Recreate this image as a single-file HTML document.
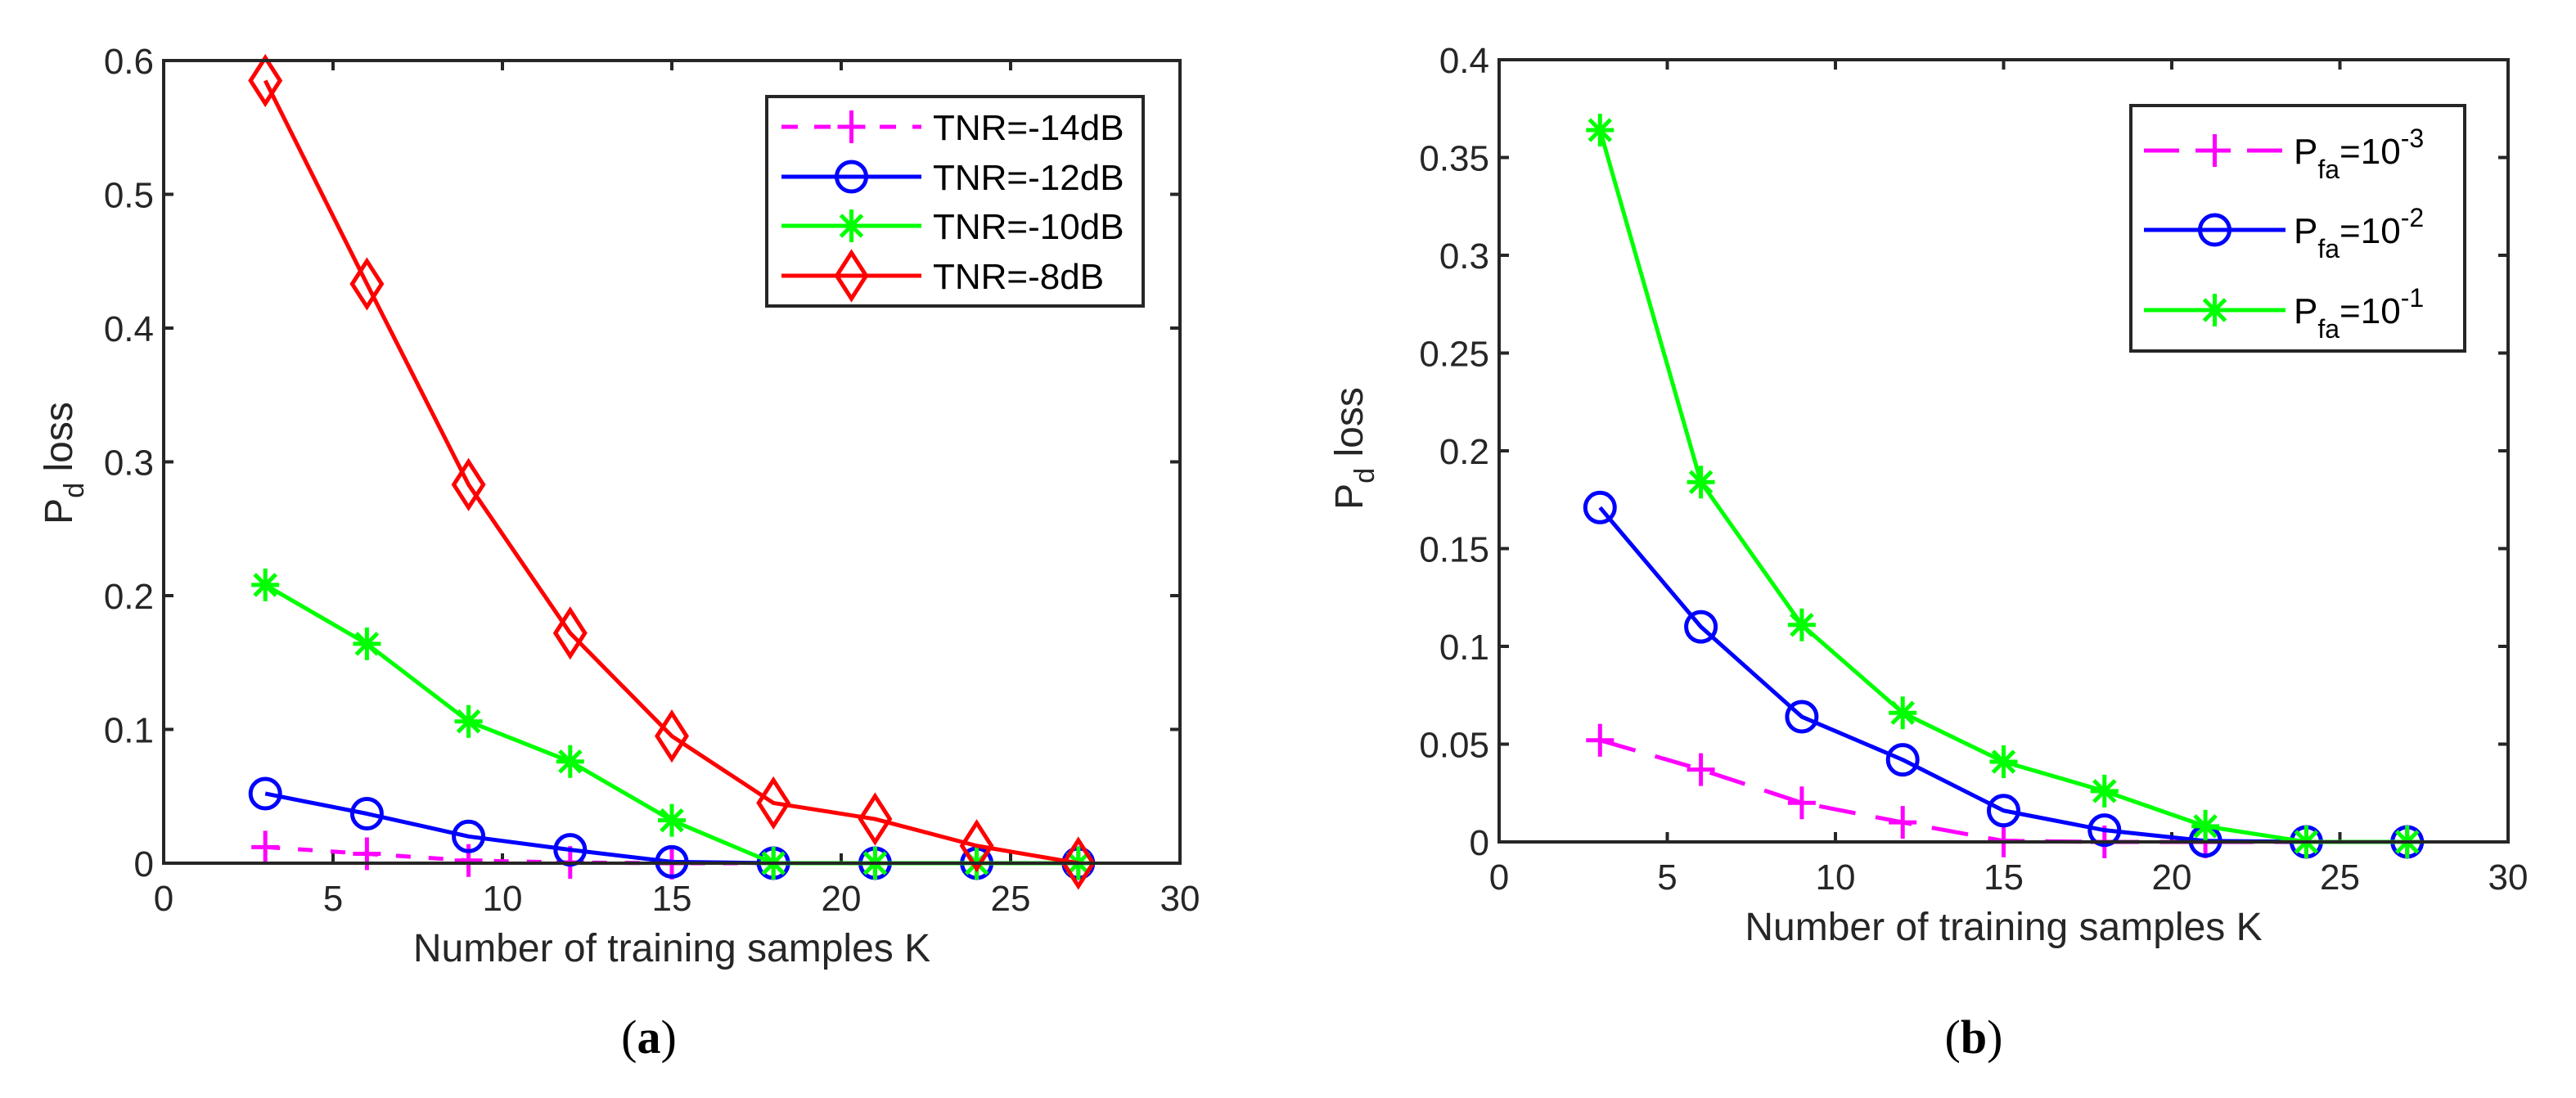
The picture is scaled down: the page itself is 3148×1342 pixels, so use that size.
<!DOCTYPE html>
<html><head><meta charset="utf-8">
<style>
html,body{margin:0;padding:0;background:#fff;}
svg{display:block;font-family:"Liberation Sans",Arial,sans-serif;}
</style></head>
<body>
<svg id="fig" width="3148" height="1342" viewBox="0 0 3148 1342" xmlns="http://www.w3.org/2000/svg"></svg>
<script>
// ---- data: panel (a) ----
const kValues = [3, 6, 9, 12, 15, 18, 21, 24, 27];
const aTnr14 = [0.012, 0.007, 0.002, 0.0005, 0, 0, 0, 0, 0];
const aTnr12 = [0.052, 0.037, 0.020, 0.010, 0.001, 0, 0, 0, 0];
const aTnr10 = [0.208, 0.164, 0.106, 0.076, 0.032, 0, 0, 0, 0];
const aTnr8  = [0.585, 0.433, 0.283, 0.172, 0.095, 0.045, 0.033, 0.013, 0];
const aLabels = ["TNR=-14dB", "TNR=-12dB", "TNR=-10dB", "TNR=-8dB"];
const aYTicks = [0, 0.1, 0.2, 0.3, 0.4, 0.5, 0.6];
const aYTickLabels = ["0", "0.1", "0.2", "0.3", "0.4", "0.5", "0.6"];
// ---- data: panel (b) ----
const bPfa3 = [0.052, 0.037, 0.020, 0.010, 0.0005, 0, 0, 0, 0];
const bPfa2 = [0.171, 0.110, 0.064, 0.042, 0.016, 0.006, 0.0005, 0, 0];
const bPfa1 = [0.364, 0.184, 0.111, 0.066, 0.041, 0.026, 0.008, 0, 0];
const bExponents = ["-3", "-2", "-1"];
const bYTicks = [0, 0.05, 0.1, 0.15, 0.2, 0.25, 0.3, 0.35, 0.4];
const bYTickLabels = ["0", "0.05", "0.1", "0.15", "0.2", "0.25", "0.3", "0.35", "0.4"];
const xTicks = [0, 5, 10, 15, 20, 25, 30];
const xTickLabels = ["0", "5", "10", "15", "20", "25", "30"];

const NS = "http://www.w3.org/2000/svg";
const svg = document.getElementById("fig");
function mk(tag, attrs, parent) {
  const e = document.createElementNS(NS, tag);
  for (const k in attrs) e.setAttribute(k, attrs[k]);
  (parent || svg).appendChild(e);
  return e;
}
const AX = "#262626";

function marker(g, type, cx, cy, color) {
  let m;
  if (type === "plus") {
    m = mk("path", {d:`M${cx-17},${cy}H${cx+17}M${cx},${cy-20}V${cy+20}`, stroke:color, "stroke-width":5, fill:"none"}, g);
  } else if (type === "circle") {
    m = mk("circle", {cx:cx, cy:cy, r:18, stroke:color, "stroke-width":5, fill:"none"}, g);
  } else if (type === "star") {
    m = mk("path", {d:`M${cx-17},${cy}H${cx+17}M${cx},${cy-20}V${cy+20}M${cx-13},${cy-13}L${cx+13},${cy+13}M${cx-13},${cy+13}L${cx+13},${cy-13}`, stroke:color, "stroke-width":5, fill:"none"}, g);
  } else {
    m = mk("path", {d:`M${cx},${cy-28}L${cx+18},${cy}L${cx},${cy+28}L${cx-18},${cy}Z`, stroke:color, "stroke-width":5, fill:"none"}, g);
  }
  
  
  return m;
}

function panel(cfg) {
  const g = mk("g", {});
  
  
  const L = cfg.L, R = cfg.R, T = cfg.T, B = cfg.B;
  const xs = v => L + (v - 0) / 30 * (R - L);
  const ys = v => B - v / cfg.ymax * (B - T);
  xTicks.forEach((t, i) => {
    const x = xs(t);
    mk("line", {x1:x, y1:B, x2:x, y2:B-12, stroke:AX, "stroke-width":4}, g);
    mk("line", {x1:x, y1:T, x2:x, y2:T+12, stroke:AX, "stroke-width":4}, g);
    const tx = mk("text", {x:x, y:B+58, "font-size":44, fill:AX, "text-anchor":"middle"}, g);
    tx.textContent = xTickLabels[i];
    
    
  });
  cfg.yTicks.forEach((t, i) => {
    const y = ys(t);
    mk("line", {x1:L, y1:y, x2:L+12, y2:y, stroke:AX, "stroke-width":4}, g);
    mk("line", {x1:R, y1:y, x2:R-12, y2:y, stroke:AX, "stroke-width":4}, g);
    const tx = mk("text", {x:L-12, y:y+16, "font-size":44, fill:AX, "text-anchor":"end"}, g);
    tx.textContent = cfg.yTickLabels[i];
    
    
  });
  cfg.series.forEach(s => {
    const sg = mk("g", {}, g);
    
    
    const pts = kValues.map((k, i) => xs(k) + "," + ys(s.values[i])).join(" ");
    const pl = mk("polyline", {points:pts, fill:"none", stroke:s.color, "stroke-width":5, "stroke-linejoin":"round"}, sg);
    if (s.dash) pl.setAttribute("stroke-dasharray", s.dash);
    kValues.forEach((k, i) => marker(sg, s.marker, xs(k), ys(s.values[i]), s.color));
  });
  const box = mk("rect", {x:L, y:T, width:R-L, height:B-T, fill:"none", stroke:AX, "stroke-width":4}, g);
  
  
  const xl = mk("text", {x:(L+R)/2, y:B+120, "font-size":48, fill:AX, "text-anchor":"middle"}, g);
  xl.textContent = "Number of training samples K";
  
  
  const yl = mk("text", {x:0, y:0, "font-size":48, fill:AX, "text-anchor":"middle", transform:`translate(${cfg.ylx},${cfg.yly}) rotate(-90)`}, g);
  yl.innerHTML = 'P<tspan dy="14" font-size="34">d</tspan><tspan dy="-14"> loss</tspan>';
  
  
  const cap = mk("text", {x:cfg.capX, y:1287, "font-size":58, fill:"#000", "text-anchor":"middle", "font-family":"Liberation Serif, serif"}, g);
  cap.innerHTML = '(<tspan font-weight="bold">' + cfg.cap + '</tspan>)';
  
  
  const lg = mk("g", {}, g);
  
  
  const lb = cfg.legend;
  mk("rect", {x:lb.x, y:lb.y, width:lb.w, height:lb.h, fill:"#fff", stroke:AX, "stroke-width":4}, lg);
  cfg.series.forEach((s, i) => {
    const eg = mk("g", {}, lg);
    
    
    const y = lb.rows[i];
    const ln = mk("line", {x1:lb.l1, y1:y, x2:lb.l2, y2:y, stroke:s.color, "stroke-width":5}, eg);
    if (s.dash) ln.setAttribute("stroke-dasharray", s.legendDash || s.dash);
    marker(eg, s.marker, (lb.l1+lb.l2)/2, y, s.color);
    const t = mk("text", {x:lb.tx, y:y+16, "font-size":44, fill:"#000"}, eg);
    t.innerHTML = s.label;
  });
}

panel({
  name:"panel-a", L:200, R:1442, T:74, B:1055, ymax:0.6,
  yTicks:aYTicks, yTickLabels:aYTickLabels, ylx:88, yly:566, capX:793, cap:"a",
  series:[
    {name:"series-tnr-14", values:aTnr14, color:"#ff00ff", marker:"plus", dash:"18,22", legendDash:"20,20", label:aLabels[0]},
    {name:"series-tnr-12", values:aTnr12, color:"#0000ff", marker:"circle", label:aLabels[1]},
    {name:"series-tnr-10", values:aTnr10, color:"#00ff00", marker:"star", label:aLabels[2]},
    {name:"series-tnr-8", values:aTnr8, color:"#ff0000", marker:"diamond", label:aLabels[3]}
  ],
  legend:{x:937, y:118, w:460, h:256, l1:955, l2:1126, tx:1140, rows:[155,216,276,337]}
});
panel({
  name:"panel-b", L:1832, R:3065, T:73, B:1029, ymax:0.4,
  yTicks:bYTicks, yTickLabels:bYTickLabels, ylx:1665, yly:548, capX:2412, cap:"b",
  series:[
    {name:"series-pfa-3", values:bPfa3, color:"#ff00ff", marker:"plus", dash:"45,25", legendDash:"43,20", label:'P<tspan dy="18" font-size="32">fa</tspan><tspan dy="-18">=10</tspan><tspan dy="-20" font-size="32">' + bExponents[0] + '</tspan>'},
    {name:"series-pfa-2", values:bPfa2, color:"#0000ff", marker:"circle", label:'P<tspan dy="18" font-size="32">fa</tspan><tspan dy="-18">=10</tspan><tspan dy="-20" font-size="32">' + bExponents[1] + '</tspan>'},
    {name:"series-pfa-1", values:bPfa1, color:"#00ff00", marker:"star", label:'P<tspan dy="18" font-size="32">fa</tspan><tspan dy="-18">=10</tspan><tspan dy="-20" font-size="32">' + bExponents[2] + '</tspan>'}
  ],
  legend:{x:2604, y:129, w:408, h:300, l1:2620, l2:2793, tx:2803, rows:[184,281,379]}
});
</script>
</body></html>
